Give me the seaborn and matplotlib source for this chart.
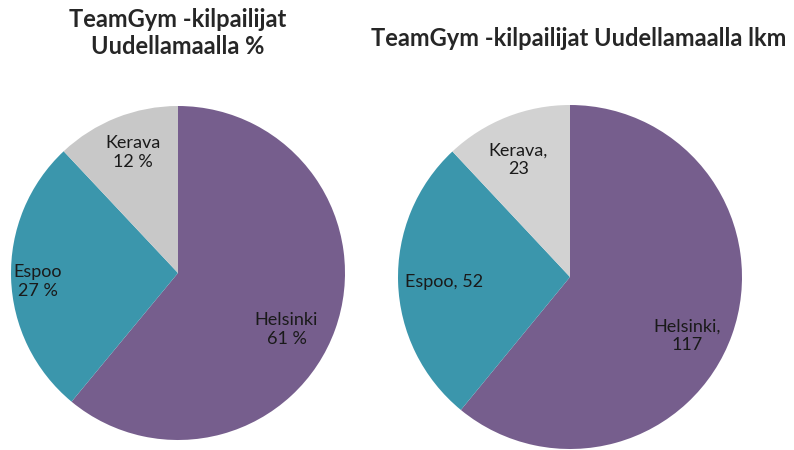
import seaborn as sns
import matplotlib.pyplot as plt
import numpy as np

cities = ["Helsinki", "Espoo", "Kerava"]
pct = [61, 27, 12]
counts = [117, 52, 23]
colors = ["#765E8D", "#3B96AC", "#C9C9C9"]

sns.set_theme(style="white")
plt.rcParams['font.family'] = ['Lato', 'DejaVu Sans']

fig = plt.figure(figsize=(7.94, 4.5), dpi=100)
W, H = 794, 450


def pie_axes(x0, y0, size):
    # pixel box (top-left origin) -> figure fraction
    return fig.add_axes([x0 / W, (H - y0 - size) / H, size / W, size / H])


def draw_pie(ax, values, labels, label_pos, grey):
    cols = colors[:2] + [grey]
    ax.pie(values, colors=cols, startangle=90, counterclock=False,
           wedgeprops=dict(linewidth=0))
    for lab, (lx, ly) in zip(labels, label_pos):
        ax.text(lx, ly, lab, ha="center", va="center", fontsize=13,
                color="#1a1a1a", linespacing=1.2)
    ax.set_xlim(-1, 1)
    ax.set_ylim(-1, 1)
    ax.set_aspect("equal")
    ax.axis("off")


ax1 = pie_axes(11, 106, 334)
labels1 = [f"{c}\n{p} %" for c, p in zip(cities, pct)]
draw_pie(ax1, pct, labels1, [(0.65, -0.34), (-0.84, -0.05), (-0.27, 0.72)], "#C8C8C8")

ax2 = pie_axes(398, 105, 344)
labels2 = ["Helsinki,\n117", "Espoo, 52", "Kerava,\n23"]
draw_pie(ax2, counts, labels2, [(0.68, -0.34), (-0.73, -0.03), (-0.30, 0.68)], "#D2D2D2")

fig.text(178 / W, 1 - 33 / H, "TeamGym -kilpailijat\nUudellamaalla %", ha="center",
         va="center", fontsize=17, fontweight="bold", linespacing=1.25)
fig.text(579 / W, 1 - 38 / H, "TeamGym -kilpailijat Uudellamaalla lkm", ha="center",
         va="center", fontsize=17, fontweight="bold")

fig.savefig("out.png", dpi=100)
